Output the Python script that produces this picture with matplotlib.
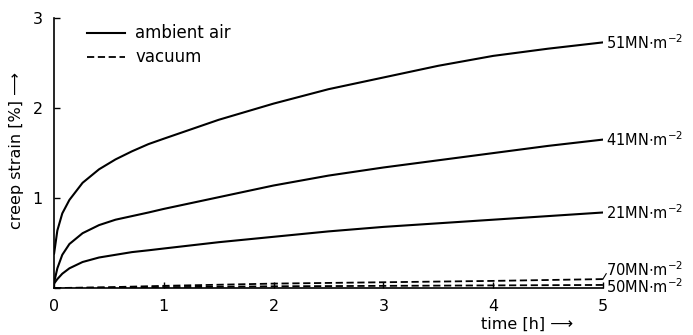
import matplotlib.pyplot as plt

# values
t = [0, 0.03, 0.075, 0.14, 0.26, 0.41, 0.56, 0.71, 0.86, 1.0, 1.5, 2, 2.5, 3, 3.5, 4, 4.5, 5]
air_51 = [0.38, 0.64, 0.83, 0.98, 1.17, 1.32, 1.43, 1.52, 1.60, 1.66, 1.87, 2.05, 2.21, 2.34, 2.47, 2.58, 2.66, 2.73]
air_41 = [0.06, 0.22, 0.37, 0.49, 0.61, 0.70, 0.76, 0.80, 0.84, 0.88, 1.01, 1.14, 1.25, 1.34, 1.42, 1.50, 1.58, 1.65]
air_21 = [0.05, 0.10, 0.16, 0.22, 0.29, 0.34, 0.37, 0.40, 0.42, 0.44, 0.51, 0.57, 0.63, 0.68, 0.72, 0.76, 0.80, 0.84]

t_vac = [0, 0.5, 1, 2, 3, 4, 5]
vac_70 = [0.0, 0.01, 0.025, 0.05, 0.065, 0.08, 0.10]
vac_50 = [0.0, 0.005, 0.01, 0.02, 0.025, 0.03, 0.035]

air_labels = ['51MN$\\cdot$m$^{-2}$', '41MN$\\cdot$m$^{-2}$', '21MN$\\cdot$m$^{-2}$']
vac_labels = ['70MN$\\cdot$m$^{-2}$', '50MN$\\cdot$m$^{-2}$']

fig = plt.figure(figsize=(6.93, 3.35), dpi=100)
ax = fig.add_axes([0.078, 0.14, 0.792, 0.806])

lw = 1.5
for y in (air_51, air_41, air_21):
    ax.plot(t, y, color='black', lw=lw, solid_capstyle='round', solid_joinstyle='round')
for y in (vac_70, vac_50):
    ax.plot(t_vac, y, color='black', lw=1.3, ls=(0, (4, 2)))

# curve labels at the right ends
for y, lab in zip((air_51, air_41, air_21), air_labels):
    ax.text(5.03, y[-1], lab, fontsize=10.5, va='center', ha='left', clip_on=False)
ax.text(5.03, 0.21, vac_labels[0], fontsize=10.5, va='center', ha='left', clip_on=False)
ax.text(5.03, 0.02, vac_labels[1], fontsize=10.5, va='center', ha='left', clip_on=False)
ax.plot([5.0, 5.03], [vac_70[-1], 0.16], color='black', lw=0.8, clip_on=False)

# legend drawn by hand
ax.plot([0.3, 0.65], [2.83, 2.83], color='black', lw=lw)
ax.text(0.74, 2.83, 'ambient air', fontsize=12, va='center')
ax.plot([0.3, 0.65], [2.57, 2.57], color='black', lw=1.3, ls=(0, (4, 2)))
ax.text(0.74, 2.57, 'vacuum', fontsize=12, va='center')

ax.set_xlim(0, 5)
ax.set_ylim(0, 3)
ax.set_xticks([0, 1, 2, 3, 4, 5])
ax.set_yticks([0, 1, 2, 3])
ax.set_yticklabels(['', '1', '2', '3'])
ax.tick_params(direction='in', length=4, width=1, labelsize=11.5, pad=8)
ax.spines['top'].set_visible(False)
ax.spines['right'].set_visible(False)
ax.spines['left'].set_linewidth(1.2)
ax.spines['bottom'].set_linewidth(1.2)

fig.text(0.024, 0.55, 'creep strain [%] \u27f6', rotation=90, fontsize=11.5,
         ha='center', va='center')
fig.text(0.76, 0.01, 'time [h] \u27f6', fontsize=11.5, ha='center', va='bottom')

fig.savefig('out.png', dpi=100)
